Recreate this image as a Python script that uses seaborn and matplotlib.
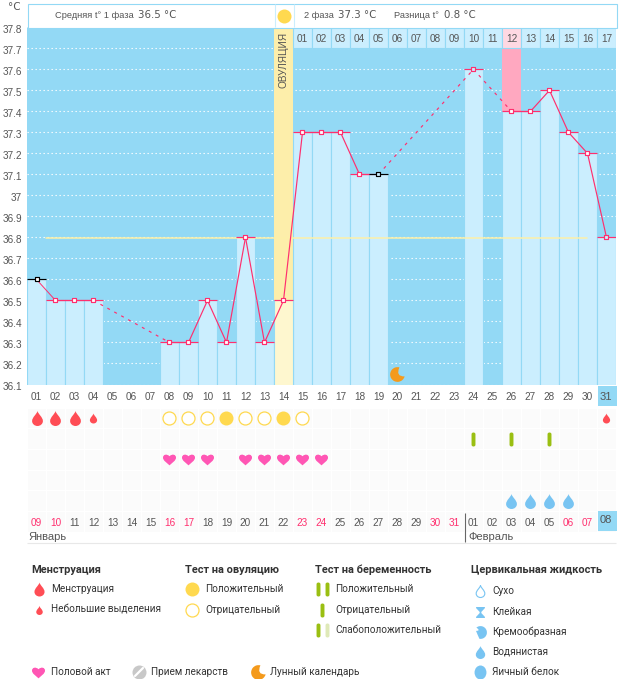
import numpy as np
import pandas as pd
import matplotlib
matplotlib.use("Agg")
import matplotlib.pyplot as plt
import matplotlib.transforms as mtrans
from matplotlib.colors import ListedColormap
from matplotlib.patches import Rectangle
from matplotlib.path import Path
import seaborn as sns

# chart values
cycle_days = list(range(1, 32))
temps = [36.6, 36.5, 36.5, 36.5, None, None, None, 36.3, 36.3, 36.5, 36.3, 36.8, 36.3, 36.5,
         37.3, 37.3, 37.3, 37.1, 37.1, None, None, None, None, 37.6, None, 37.4, 37.4, 37.5,
         37.3, 37.2, 36.8]
average_line = 36.8
ovulation_day = 14
pink_day = 26
pink_temp = 37.4
black_days = [1, 19]
hollow_days = [19, 24, 31]
phase2_days = list(range(15, 32))
phase2_labels = ["%02d" % d for d in range(1, 18)]
date_labels = ["09", "10", "11", "12", "13", "14", "15", "16", "17", "18", "19", "20", "21", "22", "23",
               "24", "25", "26", "27", "28", "29", "30", "31", "01", "02", "03", "04", "05", "06", "07", "08"]
red_dates = ["09", "10", "16", "17", "23", "24", "30", "31", "06", "07"]
ytick_values = [36.1, 36.2, 36.3, 36.4, 36.5, 36.6, 36.7, 36.8, 36.9, 37.0, 37.1, 37.2, 37.3, 37.4, 37.5, 37.6, 37.7, 37.8]
ytick_labels = ["36.1", "36.2", "36.3", "36.4", "36.5", "36.6", "36.7", "36.8", "36.9", "37",
                "37.1", "37.2", "37.3", "37.4", "37.5", "37.6", "37.7", "37.8"]

# events by cycle day
bleeding_days = [1, 2, 3]
spotting_days = [4, 31]
ov_pos_days = [11, 14]
ov_neg_days = [8, 9, 10, 12, 13, 15]
preg_neg_days = [24, 26, 28]
sex_days = [8, 9, 10, 12, 13, 14, 15, 16]
watery_days = [26, 27, 28, 29]
moon_day = 20
moon_temp = 36.15

# colours
BG = "#93d9f5"
BAR = "#cbeefe"
PINK = "#ff2f6e"
YELLOW = "#fdeeaa"
TXT = "#555555"
RED = "#ff4d55"
SUN = "#ffd94f"
GREEN = "#9abf12"
DROP = "#78c4f2"
MOON = "#f49a1c"
SMALL = "Liberation Sans"

sns.set_theme(style="white")
plt.rcParams["font.family"] = ["DejaVu Sans"]
W, H = 626, 679


def px_axes(x0, y0, x1, y1, **kw):
    return fig.add_axes([x0 / W, 1 - y1 / H, (x1 - x0) / W, (y1 - y0) / H], **kw)


# marker shapes
DROP_PATH = Path([(0, 1), (0.1, 0.55), (0.72, 0.2), (0.72, -0.35), (0.72, -0.72), (0.38, -1), (0, -1),
                  (-0.38, -1), (-0.72, -0.72), (-0.72, -0.35), (-0.72, 0.2), (-0.1, 0.55), (0, 1)],
                 [Path.MOVETO] + [Path.CURVE4] * 12)
HEART_PATH = Path([(0, -0.9), (-0.4, -0.5), (-1, -0.2), (-1, 0.3), (-1, 0.75), (-0.45, 0.95), (0, 0.5),
                   (0.45, 0.95), (1, 0.75), (1, 0.3), (1, -0.2), (0.4, -0.5), (0, -0.9)],
                  [Path.MOVETO] + [Path.CURVE4] * 12)
arc = Path.arc(75, 345)
MOON_PATH = Path(np.vstack([arc.vertices, [(-0.3, -0.3), (np.cos(np.radians(75)), np.sin(np.radians(75)))]]),
                 list(arc.codes) + [Path.CURVE3, Path.CURVE3])
r = 0.28
PILL_PATH = Path([(-r, -0.75), (-r, 0.75), (-r, 1), (0, 1), (r, 1), (r, 0.75), (r, -0.75), (r, -1), (0, -1),
                  (-r, -1), (-r, -0.75)],
                 [Path.MOVETO, Path.LINETO, Path.CURVE3, Path.CURVE3, Path.CURVE3, Path.CURVE3, Path.LINETO,
                  Path.CURVE3, Path.CURVE3, Path.CURVE3, Path.CURVE3])
GLASS_PATH = Path([(-0.8, 1), (0.8, 1), (0.8, 0.8), (0.15, 0.1), (0.15, -0.1), (0.8, -0.8), (0.8, -1),
                   (-0.8, -1), (-0.8, -0.8), (-0.15, -0.1), (-0.15, 0.1), (-0.8, 0.8), (-0.8, 1)])
arc2 = Path.arc(-100, 130)
CREAM_PATH = Path(np.vstack([arc2.vertices, [(0.1, 0.25), (-0.7, 0.25), (-0.4, -0.5), (-0.17, -0.98)]]),
                  list(arc2.codes) + [Path.CURVE3, Path.CURVE3, Path.CURVE3, Path.CURVE3])
EGG_PATH = Path(Path.unit_circle().vertices * [0.85, 1.0], Path.unit_circle().codes)


def size(px):
    return (px * 0.72) ** 2


fig = plt.figure(figsize=(W / 100, H / 100), dpi=100, facecolor="white")

# main temperature axes
ax = px_axes(27, 27.3, 616, 384.5)
ax.set_facecolor(BG)
df = pd.DataFrame({"day": cycle_days, "temp": temps}).dropna()
df["temp"] = df["temp"].astype(float)
df["kind"] = ["ov" if d == ovulation_day else "normal" for d in df["day"]]

ax.axvspan(ovulation_day - 0.5, ovulation_day + 0.5, color=YELLOW, lw=0, zorder=1)
ax.bar(pink_day, 37.7 - pink_temp, bottom=pink_temp, width=1, color="#ffa8c0", lw=0, zorder=1)
sns.barplot(data=df, x="day", y="temp", hue="kind", palette={"normal": BAR, "ov": "#fef7cf"},
            native_scale=True, dodge=False, width=1, saturation=1, errorbar=None, legend=False,
            edgecolor=BG, linewidth=0.8, ax=ax, zorder=1)
ax.bar(phase2_days, 0.1, bottom=37.7, width=1, linewidth=0.8, edgecolor=BG, zorder=1,
       color=["#ffd8e2" if d == pink_day else BAR for d in phase2_days])
for d, lab in zip(phase2_days, phase2_labels):
    ax.text(d, 37.742, lab, ha="center", va="center", fontsize=7.2, family=SMALL, color=TXT, zorder=5)
ax.text(ovulation_day, 37.645, "ОВУЛЯЦИЯ", rotation=90, ha="center", va="center", fontsize=7.2, family=SMALL,
        color=TXT, zorder=5)

# average line, then the temperature curve on top
ax.plot([1.5, 30], [average_line - 0.004] * 2, color="#fdf0a8", lw=1.1, zorder=2)
valid = df[["day", "temp"]].values
for (d0, t0), (d1, t1) in zip(valid[:-1], valid[1:]):
    gap = d1 - d0 > 1
    sns.lineplot(x=[d0, d1], y=[t0, t1], color=PINK, lw=0.85 if d0 > 1 else 0.7, estimator=None,
                 linestyle=(0, (2.5, 4.2)) if gap else "-", ax=ax, zorder=3)
ax.hlines(df["temp"], df["day"] - 0.5, df["day"] + 0.5, lw=0.85, zorder=3,
          colors=["black" if d in black_days else PINK for d in df["day"]])
for d, t in valid:
    edge = "black" if d in black_days else PINK
    face = BAR if d in hollow_days else "white"
    sns.scatterplot(x=[d], y=[t], marker="s", s=size(4.6), facecolor=face, edgecolor=edge,
                    linewidth=0.85, ax=ax, zorder=4)
sns.scatterplot(x=[moon_day], y=[moon_temp], marker=MOON_PATH, s=size(15), color=MOON, linewidth=0, ax=ax, zorder=4)

ax.set_xlim(0.5, 31.5)
ax.set_ylim(36.1, 37.8)
ax.set_yticks(ytick_values, ytick_labels)
ax.set_xticks(cycle_days[:-1], ["%02d" % d for d in cycle_days[:-1]])
ax.grid(axis="y", color="white", lw=0.8, linestyle=(0, (1.2, 2.4)))
ax.set_axisbelow(True)
ax.set_xlabel("")
ax.set_ylabel("")
ax.tick_params(axis="both", length=0, labelsize=7.2, labelcolor=TXT)
ax.tick_params(axis="x", pad=5.5)
ax.tick_params(axis="y", pad=3.5)
shift = mtrans.ScaledTranslation(0, -2 / 100, fig.dpi_scale_trans)
for lab in ax.get_xticklabels() + ax.get_yticklabels():
    lab.set_family(SMALL)
for lab in ax.get_yticklabels():
    lab.set_transform(lab.get_transform() + shift)
sns.despine(ax=ax, left=True, bottom=True, right=True, top=True)

# event grid under the chart
ev = px_axes(27, 407.5, 616, 531.5)
sns.heatmap(np.zeros((6, 31)), ax=ev, cbar=False, cmap=ListedColormap(["#fbfbfb"]), linewidths=0.7,
            linecolor="white", xticklabels=False, yticklabels=False)


def events(days, row, **kw):
    sns.scatterplot(x=[d - 0.5 for d in days], y=[row + 0.5] * len(days), ax=ev, clip_on=False, **kw)


events(bleeding_days, 0, marker=DROP_PATH, s=size(15), color=RED, linewidth=0)
events(spotting_days, 0, marker=DROP_PATH, s=size(10), color=RED, linewidth=0)
events(ov_pos_days, 0, marker="o", s=size(14), color=SUN, linewidth=0)
events(ov_neg_days, 0, marker="o", s=size(13), facecolor="white", edgecolor=SUN, linewidth=0.9)
events(preg_neg_days, 1, marker=PILL_PATH, s=size(14), color=GREEN, linewidth=0)
events(sex_days, 2, marker=HEART_PATH, s=size(13), color="#ff56b4", linewidth=0)
events(watery_days, 4, marker=DROP_PATH, s=size(15), color=DROP, linewidth=0)
for i, lab in enumerate(date_labels[:-1]):
    ev.text(i + 0.5, 5.58, lab, ha="center", va="center", fontsize=7.2, family=SMALL,
            color=PINK if lab in red_dates else TXT)
ev.set_xlabel("")
ev.set_ylabel("")

# overlay in pixel coordinates for header frame, highlights and legend
ov = px_axes(0, 0, W, H, zorder=10)
ov.set_xlim(0, W)
ov.set_ylim(H, 0)
ov.axis("off")
ov.add_patch(Rectangle((27.5, 3.5), 589, 24, facecolor="white", edgecolor=BG, lw=0.8))
ov.vlines([274.5, 293.5], 3.5, 27, color=BAR, lw=0.8)
ov.scatter([284], [15.5], s=size(14), color=SUN, linewidth=0)
ov.text(8, 6.5, "°C", fontsize=7.5, color=TXT, va="center")
ov.text(55, 15.5, "Средняя t° 1 фаза", fontsize=6.7, family=SMALL, color=TXT, va="center")
ov.text(138, 15.5, "36.5 °C", fontsize=7.4, color=TXT, va="center")
ov.text(304, 15.5, "2 фаза", fontsize=6.7, family=SMALL, color=TXT, va="center")
ov.text(338, 15.5, "37.3 °C", fontsize=7.4, color=TXT, va="center")
ov.text(394, 15.5, "Разница t°", fontsize=6.7, family=SMALL, color=TXT, va="center")
ov.text(444, 15.5, "0.8 °C", fontsize=7.4, color=TXT, va="center")

ov.add_patch(Rectangle((598, 386), 19, 20, facecolor=BG, lw=0))
ov.text(605.5, 397, "31", fontsize=8, family=SMALL, color=TXT, ha="center", va="center")
ov.add_patch(Rectangle((598, 511), 19, 20, facecolor=BG, lw=0))
ov.text(605.5, 520, "08", fontsize=8, family=SMALL, color=TXT, ha="center", va="center")
ov.vlines(464.5, 513, 542, color="#666666", lw=0.8)
ov.hlines(542.5, 27, 616, color="#e8e8e8", lw=0.8)
ov.text(28, 537, "Январь", fontsize=8, family=SMALL, color=TXT, va="center")
ov.text(468, 537, "Февраль", fontsize=8, family=SMALL, color=TXT, va="center")

LEG = {"family": "Roboto", "color": "#333333", "va": "center"}
for x, t in [(31, "Менструация"), (185, "Тест на овуляцию"), (315, "Тест на беременность"), (471, "Цервикальная жидкость")]:
    ov.text(x, 570, t, fontweight="bold", fontsize=7.9, **LEG)
for x, y, t in [(51, 589, "Менструация"), (51, 610, "Небольшие выделения"),
                (205, 589, "Положительный"), (205, 610, "Отрицательный"),
                (335, 589, "Положительный"), (335, 610, "Отрицательный"), (335, 630, "Слабоположительный"),
                (492, 591, "Сухо"), (492, 612, "Клейкая"), (492, 632, "Кремообразная"),
                (492, 652, "Водянистая"), (492, 672, "Яичный белок"),
                (51, 672, "Половой акт"), (151, 672, "Прием лекарств"), (270, 672, "Лунный календарь")]:
    ov.text(x, y, t, fontsize=7.2, **LEG)

ov.scatter([39], [589], marker=DROP_PATH, s=size(14), color=RED, linewidth=0)
ov.scatter([39], [610], marker=DROP_PATH, s=size(9), color=RED, linewidth=0)
ov.scatter([192], [589], s=size(14), color=SUN, linewidth=0)
ov.scatter([192], [610], s=size(13), facecolor="white", edgecolor=SUN, linewidth=0.9)
ov.scatter([317.5, 326.5, 322, 317.5], [589, 589, 610, 630], marker=PILL_PATH, s=size(14), color=GREEN, linewidth=0)
ov.scatter([327], [630], marker=PILL_PATH, s=size(14), color="#dfe9b8", linewidth=0)
ov.scatter([480], [591], marker=DROP_PATH, s=size(12), facecolor="white", edgecolor=DROP, linewidth=0.8)
ov.scatter([480], [612], marker=GLASS_PATH, s=size(11), color=DROP, linewidth=0)
ov.scatter([480], [632], marker=CREAM_PATH, s=size(13), color=DROP, linewidth=0)
ov.scatter([480], [652], marker=DROP_PATH, s=size(13), color=DROP, linewidth=0)
ov.scatter([480], [672], marker=EGG_PATH, s=size(14), color=DROP, linewidth=0)
ov.scatter([38], [672], marker=HEART_PATH, s=size(13), color="#ff56b4", linewidth=0)
ov.scatter([139], [672], s=size(14), color="#c8c8c8", linewidth=0)
ov.plot([135, 143], [676, 668], color="white", lw=1.6)
ov.scatter([258], [672], marker=MOON_PATH, s=size(15), color=MOON, linewidth=0)

fig.savefig("out.png", dpi=100)
